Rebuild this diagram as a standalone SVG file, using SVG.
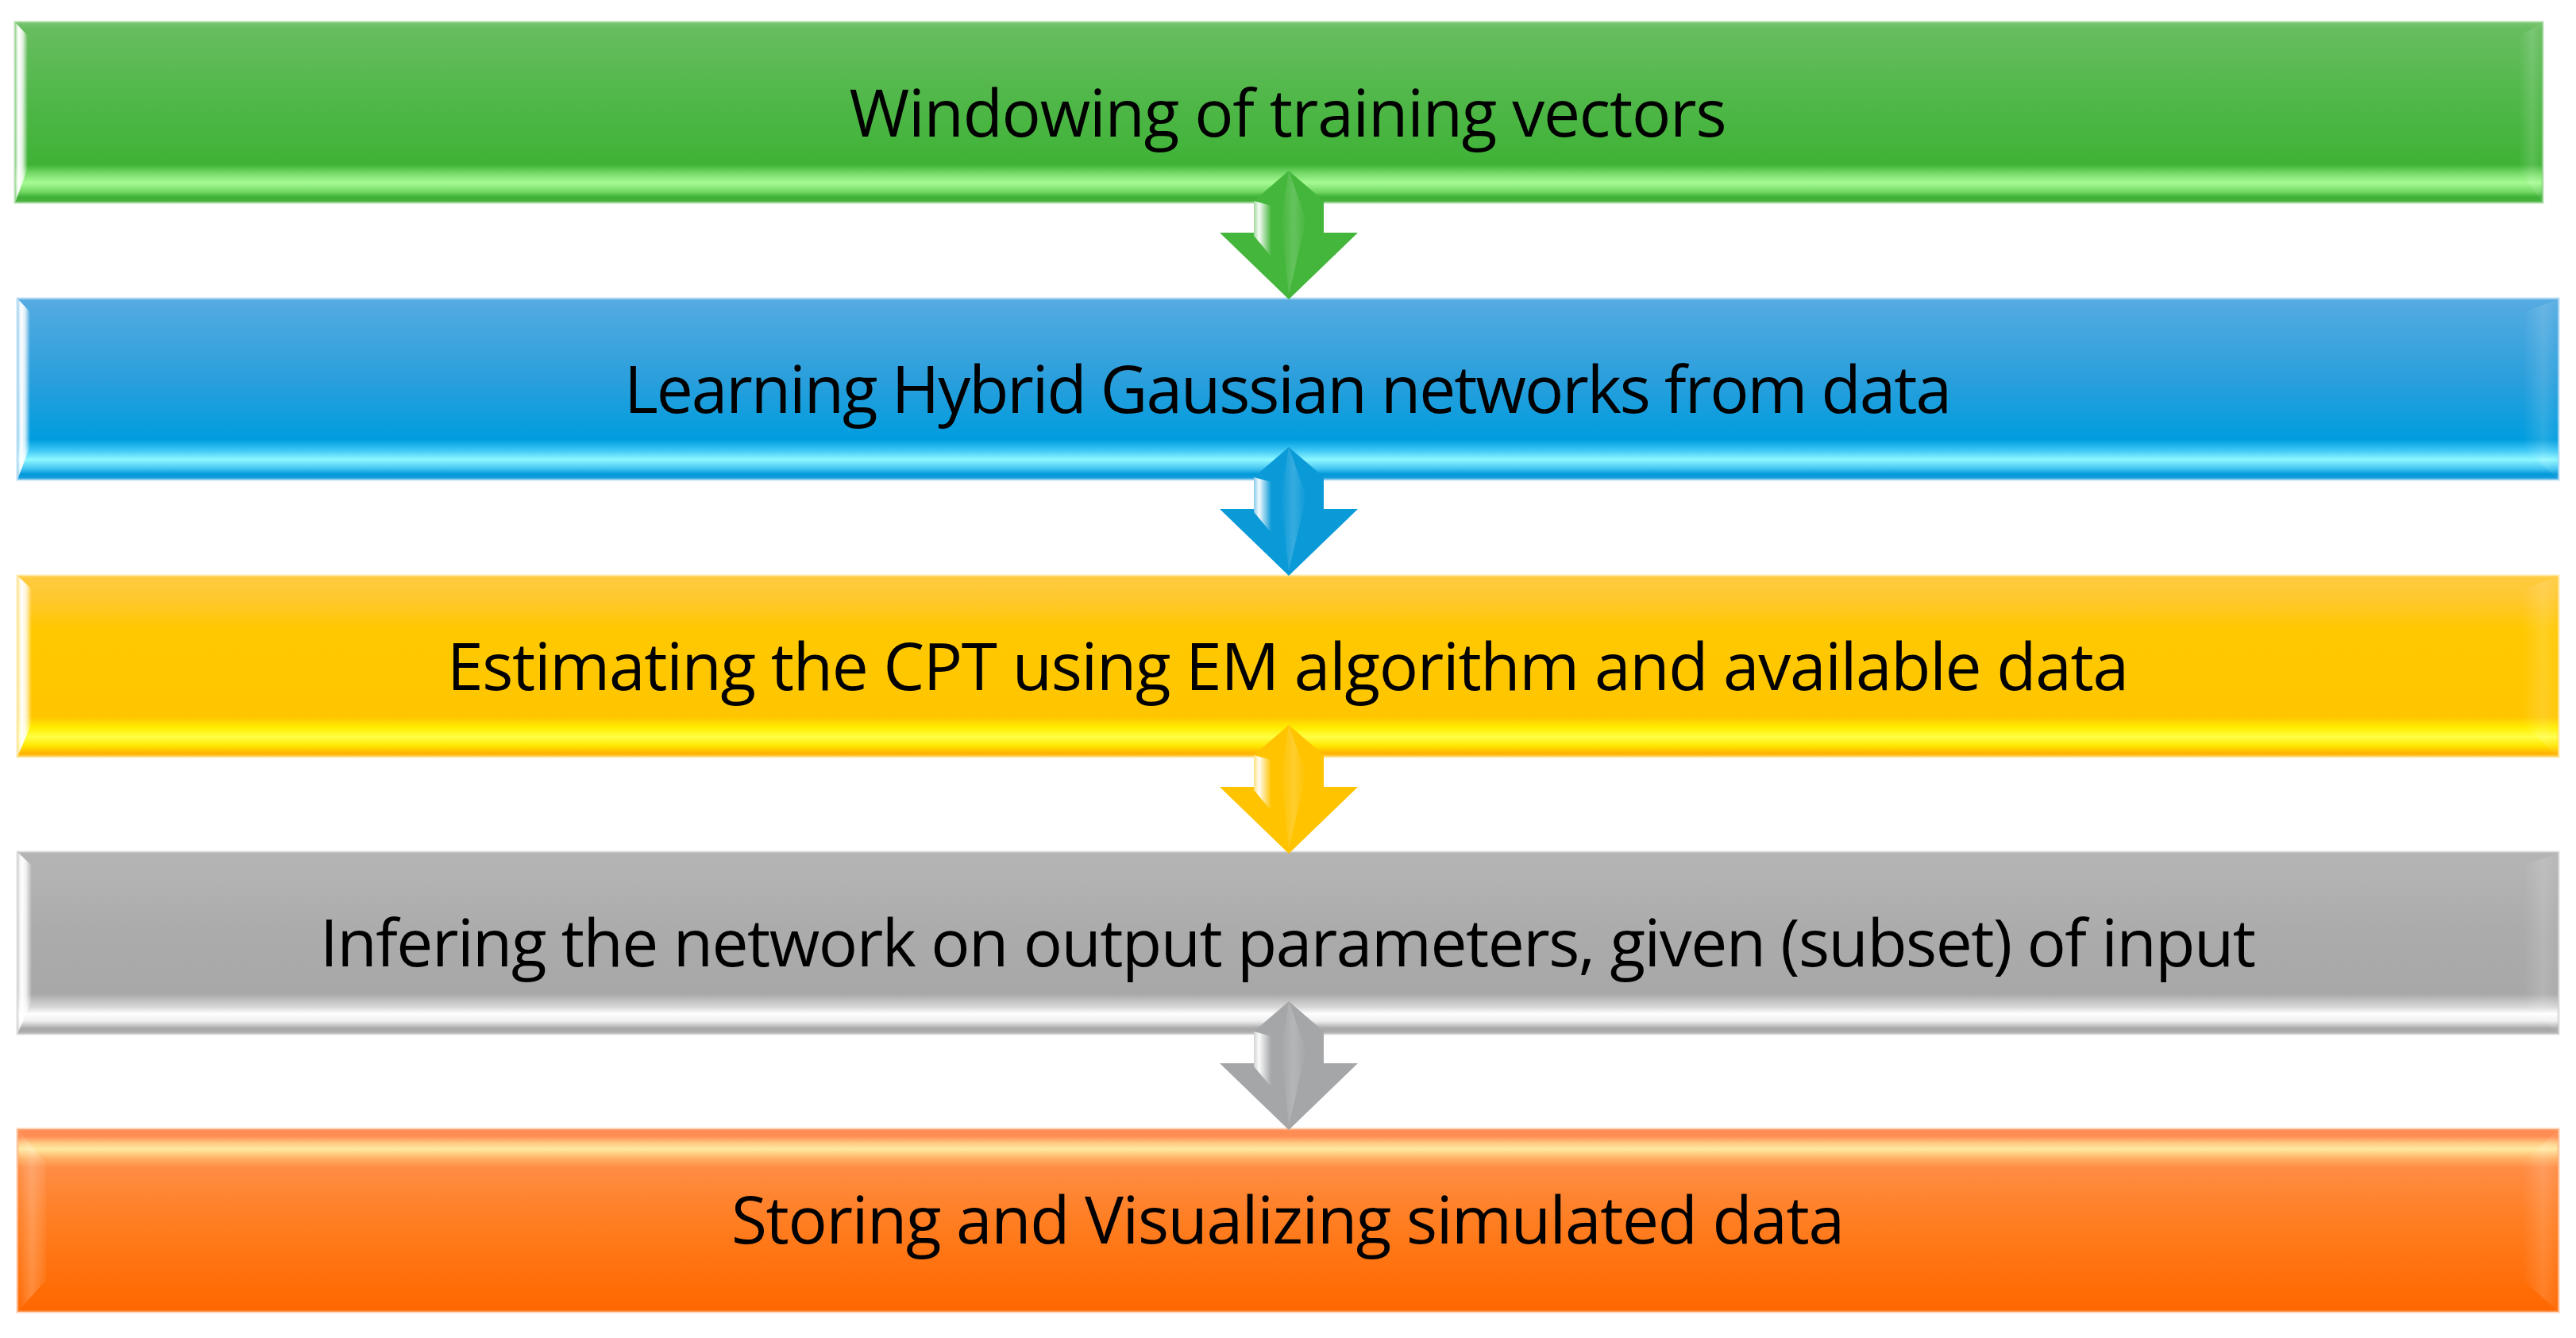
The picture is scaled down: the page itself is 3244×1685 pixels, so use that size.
<svg xmlns="http://www.w3.org/2000/svg" width="3244" height="1685" viewBox="0 0 3244 1685">
<style>
.lbl{font-family:"Open Sans","Noto Sans","Liberation Sans",sans-serif;font-size:82px;fill:#000;text-anchor:middle}
.edge{fill:none;stroke-width:3}
</style>
<defs>
<linearGradient id="vGreen" x1="0" y1="0" x2="0" y2="1">
<stop offset="0" stop-color="#78c470"/><stop offset="0.04" stop-color="#66bd5e"/><stop offset="0.45" stop-color="#4fb748"/><stop offset="0.79" stop-color="#3fb336"/><stop offset="0.84" stop-color="#78dc6a"/><stop offset="0.89" stop-color="#a6fb93"/><stop offset="0.94" stop-color="#74d866"/><stop offset="0.97" stop-color="#3eb035"/><stop offset="1" stop-color="#4ab342"/>
</linearGradient>
<linearGradient id="vBlue" x1="0" y1="0" x2="0" y2="1">
<stop offset="0" stop-color="#58ace2"/><stop offset="0.06" stop-color="#4fa9e0"/><stop offset="0.45" stop-color="#2a9fdc"/><stop offset="0.78" stop-color="#009ddf"/><stop offset="0.84" stop-color="#40c9f6"/><stop offset="0.89" stop-color="#8ef8ff"/><stop offset="0.94" stop-color="#44c4f2"/><stop offset="0.97" stop-color="#0098d8"/><stop offset="1" stop-color="#20a0dc"/>
</linearGradient>
<linearGradient id="vYellow" x1="0" y1="0" x2="0" y2="1">
<stop offset="0" stop-color="#ffcb40"/><stop offset="0.12" stop-color="#ffc830"/><stop offset="0.3" stop-color="#ffc800"/><stop offset="0.78" stop-color="#ffc600"/><stop offset="0.84" stop-color="#ffee00"/><stop offset="0.89" stop-color="#ffff44"/><stop offset="0.94" stop-color="#ffe600"/><stop offset="0.98" stop-color="#ffb400"/><stop offset="1" stop-color="#ffc030"/>
</linearGradient>
<linearGradient id="vGray" x1="0" y1="0" x2="0" y2="1">
<stop offset="0" stop-color="#b4b4b4"/><stop offset="0.12" stop-color="#b3b3b3"/><stop offset="0.45" stop-color="#ababab"/><stop offset="0.78" stop-color="#a8a8a8"/><stop offset="0.85" stop-color="#d6d6d6"/><stop offset="0.89" stop-color="#ffffff"/><stop offset="0.93" stop-color="#eeeeee"/><stop offset="0.97" stop-color="#a8a8a8"/><stop offset="1" stop-color="#b0b0b0"/>
</linearGradient>
<linearGradient id="vOrange" x1="0" y1="0" x2="0" y2="1">
<stop offset="0" stop-color="#ff8c52"/><stop offset="0.04" stop-color="#ff8e54"/><stop offset="0.08" stop-color="#ffd088"/><stop offset="0.11" stop-color="#ffe8a0"/><stop offset="0.16" stop-color="#ffb064"/><stop offset="0.21" stop-color="#ff8c44"/><stop offset="0.5" stop-color="#ff7e22"/><stop offset="0.85" stop-color="#ff6e08"/><stop offset="1" stop-color="#ff6600"/>
</linearGradient>
<linearGradient id="lWhite" x1="0" y1="0" x2="1" y2="0">
<stop offset="0" stop-color="#ffffff" stop-opacity="0.6"/><stop offset="0.3" stop-color="#ffffff" stop-opacity="1"/><stop offset="0.6" stop-color="#ffffff" stop-opacity="0.8"/><stop offset="1" stop-color="#ffffff" stop-opacity="0"/>
</linearGradient>
<linearGradient id="lSoft" x1="0" y1="0" x2="1" y2="0">
<stop offset="0" stop-color="#ffffff" stop-opacity="0"/><stop offset="0.5" stop-color="#ffffff" stop-opacity="0.22"/><stop offset="1" stop-color="#ffffff" stop-opacity="0.05"/>
</linearGradient>
<linearGradient id="lRight" x1="0" y1="0" x2="1" y2="0">
<stop offset="0" stop-color="#ffffff" stop-opacity="0"/><stop offset="0.6" stop-color="#ffffff" stop-opacity="0.14"/><stop offset="1" stop-color="#ffffff" stop-opacity="0.04"/>
</linearGradient>
<linearGradient id="aHi" x1="0" y1="0" x2="1" y2="0">
<stop offset="0" stop-color="#ffffff" stop-opacity="0.5"/><stop offset="0.3" stop-color="#ffffff" stop-opacity="0.95"/><stop offset="1" stop-color="#ffffff" stop-opacity="0"/>
</linearGradient>
<linearGradient id="aRidge" x1="0" y1="0" x2="1" y2="0">
<stop offset="0" stop-color="#ffffff" stop-opacity="0"/><stop offset="0.5" stop-color="#ffffff" stop-opacity="0.18"/><stop offset="1" stop-color="#ffffff" stop-opacity="0"/>
</linearGradient>
<path id="arrowShape" d="M0,-162 L44,-124 L44,-84 L87,-84 L0,0 L-87,-84 L-44,-84 L-44,-124 Z"/>
</defs>
<rect width="3244" height="1685" fill="#ffffff"/>

<g id="node1">
<rect x="19" y="28" width="3183" height="227" fill="url(#vGreen)"/>
<polygon points="19,28 35,45 35,212 19,255" fill="url(#lWhite)"/>
<polygon points="3172,45 3200,30 3200,253 3172,212" fill="url(#lRight)"/>
<rect x="19" y="28" width="3183" height="227" class="edge" stroke="#8ccf84" stroke-opacity="0.6"/>
<text class="lbl" x="1622" y="172" textLength="1105">Windowing of training vectors</text>
</g>

<g id="node2">
<rect x="22" y="376" width="3200" height="228" fill="url(#vBlue)"/>
<polygon points="22,376 38,393 38,562 22,604" fill="url(#lWhite)"/>
<polygon points="3177,393 3220,378 3220,602 3177,562" fill="url(#lRight)"/>
<rect x="22" y="376" width="3200" height="228" class="edge" stroke="#9fd0f0" stroke-opacity="0.6"/>
<text class="lbl" x="1622" y="520" textLength="1672">Learning Hybrid Gaussian networks from data</text>
</g>

<g id="node3">
<rect x="22" y="725" width="3200" height="228" fill="url(#vYellow)"/>
<polygon points="22,725 40,742 40,911 22,953" fill="url(#lWhite)"/>
<polygon points="3177,742 3220,727 3220,951 3177,911" fill="url(#lRight)"/>
<rect x="22" y="725" width="3200" height="228" class="edge" stroke="#ffe080" stroke-opacity="0.6"/>
<text class="lbl" x="1622" y="869" textLength="2118">Estimating the CPT using EM algorithm and available data</text>
</g>

<g id="node4">
<rect x="22" y="1073" width="3200" height="229" fill="url(#vGray)"/>
<polygon points="22,1073 40,1090 40,1260 22,1302" fill="url(#lWhite)"/>
<polygon points="3177,1090 3220,1075 3220,1300 3177,1260" fill="url(#lRight)"/>
<rect x="22" y="1073" width="3200" height="229" class="edge" stroke="#cccccc" stroke-opacity="0.6"/>
<text class="lbl" x="1622" y="1217" textLength="2438">Infering the network on output parameters, given (subset) of input</text>
</g>

<g id="node5">
<rect x="22" y="1422" width="3200" height="230" fill="url(#vOrange)"/>
<polygon points="22,1422 58,1465 58,1612 22,1652" fill="url(#lSoft)"/>
<polygon points="3177,1465 3220,1424 3220,1650 3177,1612" fill="url(#lRight)"/>
<rect x="22" y="1422" width="3200" height="230" class="edge" stroke="#ffb080" stroke-opacity="0.6"/>
<text class="lbl" x="1622" y="1566" textLength="1402">Storing and Visualizing simulated data</text>
</g>

<g id="connectors">
<g transform="translate(1623,377)">
<use href="#arrowShape" fill="#44b63b"/>
<polygon points="-44,-124 -22,-118 -22,-54 -44,-80" fill="url(#aHi)"/>
<polygon points="0,-162 22,-100 0,-6 -10,-100" fill="url(#aRidge)"/>
</g>
<g transform="translate(1623,725)">
<use href="#arrowShape" fill="#0b9ad8"/>
<polygon points="-44,-124 -22,-118 -22,-54 -44,-80" fill="url(#aHi)"/>
<polygon points="0,-162 22,-100 0,-6 -10,-100" fill="url(#aRidge)"/>
</g>
<g transform="translate(1623,1075)">
<use href="#arrowShape" fill="#ffc300"/>
<polygon points="-44,-124 -22,-118 -22,-54 -44,-80" fill="url(#aHi)"/>
<polygon points="0,-162 22,-100 0,-6 -10,-100" fill="url(#aRidge)"/>
</g>
<g transform="translate(1623,1423)">
<use href="#arrowShape" fill="#a4a6a8"/>
<polygon points="-44,-124 -22,-118 -22,-54 -44,-80" fill="url(#aHi)"/>
<polygon points="0,-162 22,-100 0,-6 -10,-100" fill="url(#aRidge)"/>
</g>
</g>
</svg>
